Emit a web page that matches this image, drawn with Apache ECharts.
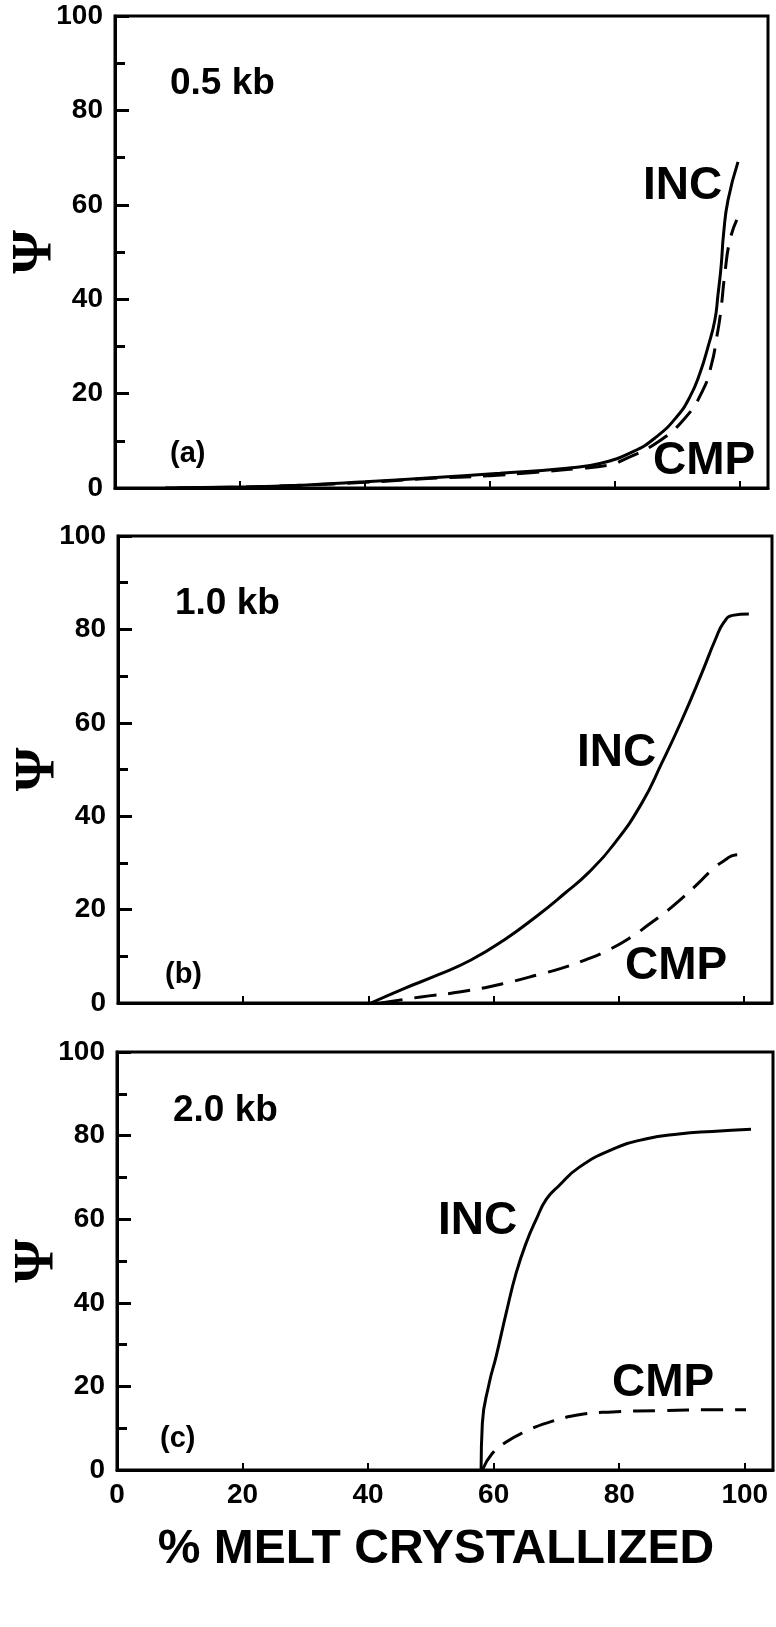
<!DOCTYPE html>
<html>
<head>
<meta charset="utf-8">
<script src="https://cdn.jsdelivr.net/npm/echarts@6/dist/echarts.min.js"></script>
<style>
  html, body { margin: 0; padding: 0; background: #fff; }
  #chart { width: 776px; height: 1627px; }
</style>
</head>
<body>
<div id="chart"></div>
<script>
// Ψ vs % melt crystallized, three pressures
const xTicks = [0, 20, 40, 60, 80, 100];
const yTicks = [0, 20, 40, 60, 80, 100];

// (a) 0.5 kb
const incA = [[8,0],[20,0.2],[30,0.6],[40,1.3],[50,2.1],[61.6,3.1],[72.3,4.2],[77.6,5.2],[82.9,7.7],[86.7,10.9],[89.9,15.1],[92,19.3],[93.6,24.3],[94.9,29.9],[96,35.6],[96.5,41],[97,47],[97.4,54],[98.1,61],[99.7,69.1]];
const cmpA = [[10,0],[20,0.2],[30,0.6],[40,1.2],[50,2],[60,2.6],[67,3.3],[74,4.1],[79.2,4.9],[81.1,5.8],[86.7,9.6],[91.2,14.8],[94.1,20.8],[95.5,26.4],[96.3,32],[96.9,37],[97.6,45.5],[98.4,52.5],[99.5,56.8]];

// (b) 1.0 kb
const incB = [[40.4,0],[45.7,3.1],[51.1,6],[56.4,9.2],[61.7,13.5],[67.1,18.8],[71.4,23.5],[75.1,27.8],[79.4,34.3],[83.7,42.8],[86.9,51.4],[90.1,60.6],[93.3,70.7],[95.5,78],[96.8,81.5],[98.2,83],[100.8,83.3]];
const cmpB = [[42,0],[48.4,1.3],[54.8,2.4],[61.7,4.2],[68.1,6.4],[70.8,7.4],[74.6,9.2],[78.3,11.3],[82.1,14.2],[84.7,16.7],[87.9,19.9],[90.1,22.4],[92.7,25.6],[94.9,28.5],[97,30.6],[98.6,31.7],[100.5,31.8]];

// (c) 2.0 kb
const incC = [[58,0],[58.2,11.2],[59.3,20.8],[60.4,27.2],[62,37.6],[63.6,47.2],[65.2,54.4],[66.8,60],[68.4,64.8],[70.4,68],[73.6,72.4],[78.9,76.7],[84.2,79.2],[89.5,80.4],[94.8,81],[101,81.5]];
const cmpC = [[58.2,0],[59.8,4],[62,6.7],[64.5,8.8],[68.4,11.2],[73.6,13.2],[78.9,13.9],[86.8,14.2],[94.8,14.4],[100.2,14.4]];

const FONT = '"Liberation Sans", Arial, Helvetica, sans-serif';
const grids = [
  { left: 115, top: 16, width: 653, height: 472 },
  { left: 118, top: 536, width: 654, height: 467 },
  { left: 117, top: 1052, width: 656, height: 418 }
];

// text placed by its left edge and the middle of its line
function txt(text, left, mid, size) {
  return {
    text: text, left: left, top: Math.round(mid - size / 2 + 3), padding: 0,
    textStyle: { fontFamily: FONT, fontWeight: 'bold', fontSize: size, color: '#000', lineHeight: size }
  };
}

const titles = [
  txt('0.5 kb', 170, 80, 37), txt('(a)', 170, 450, 29), txt('INC', 643, 183, 46), txt('CMP', 653, 458, 46),
  txt('1.0 kb', 175, 600, 37), txt('(b)', 165, 971, 29), txt('INC', 577, 750, 46), txt('CMP', 625, 963, 46),
  txt('2.0 kb', 173, 1107, 37), txt('(c)', 160, 1435, 29), txt('INC', 438, 1218, 46), txt('CMP', 612, 1380, 46)
];

const xAxes = grids.map(function (g, i) {
  return {
    type: 'value', gridIndex: i, min: 0, max: 104.5, interval: 20,
    axisLine: { show: true, lineStyle: { color: '#000', width: 3 } },
    axisTick: { show: true, inside: true, length: 7, lineStyle: { color: '#000', width: 2 } },
    splitLine: { show: false },
    axisLabel: {
      show: i === 2, margin: 11, color: '#000', fontFamily: FONT, fontWeight: 'bold', fontSize: 28,
      formatter: function (v) { return xTicks.indexOf(v) >= 0 ? String(v) : ''; }
    },
    name: i === 2 ? '% MELT CRYSTALLIZED' : '',
    nameLocation: 'middle', nameGap: 56, nameMoveOverlap: false,
    nameTextStyle: { color: '#000', fontFamily: FONT, fontWeight: 'bold', fontSize: 48, lineHeight: 48, padding: [0, 18, 0, 0] }
  };
});

const yAxes = grids.map(function (g, i) {
  return {
    type: 'value', gridIndex: i, min: 0, max: 100, interval: 20,
    axisLine: { show: true, lineStyle: { color: '#000', width: 3 } },
    axisTick: { show: true, inside: true, length: 14, lineStyle: { color: '#000', width: 3 } },
    minorTick: { show: true, splitNumber: 2, length: 10, lineStyle: { color: '#000', width: 3 } },
    splitLine: { show: false },
    axisLabel: {
      margin: 12, color: '#000', fontFamily: FONT, fontWeight: 'bold', fontSize: 28,
      formatter: function (v) { return yTicks.indexOf(v) >= 0 ? String(v) : ''; }
    },
    name: 'Ψ', nameLocation: 'middle', nameGap: 50, nameRotate: 90, nameMoveOverlap: false,
    nameTextStyle: { color: '#000', fontFamily: '"Liberation Serif", "DejaVu Serif", serif', fontWeight: 'bold', fontSize: 56 }
  };
});

function curve(data, idx, dashed) {
  return {
    type: 'line', xAxisIndex: idx, yAxisIndex: idx, data: data,
    showSymbol: false, smooth: 0.5,
    lineStyle: { color: '#000', width: 3, type: dashed ? [22, 12] : 'solid' }
  };
}

const chart = echarts.init(document.getElementById('chart'), null, { renderer: 'canvas' });
chart.setOption({
  backgroundColor: '#fff',
  animation: false,
  title: titles,
  grid: grids.map(function (g) {
    return Object.assign({
      show: true, borderColor: '#000', borderWidth: 3, backgroundColor: 'transparent',
      containLabel: false, outerBoundsMode: 'none'
    }, g);
  }),
  xAxis: xAxes,
  yAxis: yAxes,
  series: [
    curve(incA, 0, false), curve(cmpA, 0, true),
    curve(incB, 1, false), curve(cmpB, 1, true),
    curve(incC, 2, false), curve(cmpC, 2, true)
  ]
});
</script>
</body>
</html>
